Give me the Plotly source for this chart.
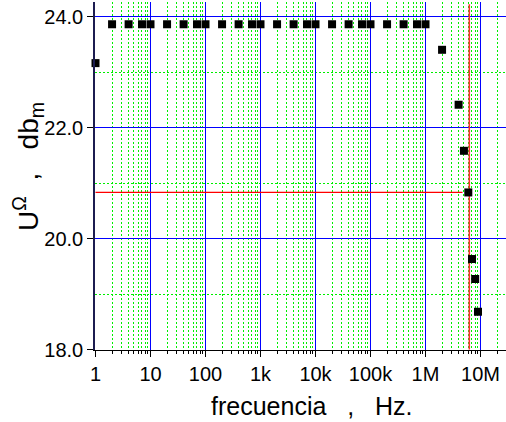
import plotly.graph_objects as go

# ---- data ----
freq_hz = [1, 2, 4, 7, 10, 20, 40, 70, 100, 200, 400, 700,
           1e3, 2e3, 4e3, 7e3, 1e4, 2e4, 4e4, 7e4, 1e5, 2e5, 4e5, 7e5, 1e6,
           2e6, 4e6, 5e6, 6e6, 7e6, 8e6, 9e6]
level_dbm = [23.16, 23.86, 23.86, 23.86, 23.86, 23.86, 23.86, 23.86, 23.86, 23.86, 23.86, 23.86,
             23.86, 23.86, 23.86, 23.86, 23.86, 23.86, 23.86, 23.86, 23.86, 23.86, 23.86, 23.86, 23.86,
             23.40, 22.41, 21.58, 20.83, 19.63, 19.27, 18.68]

ref_level = 20.83          # horizontal red marker level
ref_line_end_hz = 4.7e6    # where the horizontal red marker stops
cutoff_hz = 6.26e6         # vertical red marker frequency

x_tickvals = [1, 10, 100, 1e3, 1e4, 1e5, 1e6, 1e7]
x_ticktext = ["1", "10", "100", "1k", "10k", "100k", "1M", "10M"]
x_minorvals = [m * 10 ** d for d in range(0, 8) for m in range(2, 10)]
y_tickvals = [18, 20, 22, 24]
y_ticktext = ["18.0", "20.0", "22.0", "24.0"]
y_minorvals = [19, 21, 23]

FONT = "Liberation Sans, Arial, sans-serif"

# layout geometry (pixels) chosen so major grid lines fall on pixel centres
W, H = 506, 422
ML, MR, MT, MB = 95, 0, 2, 72
PW, PH = W - ML - MR, H - MT - MB
DEC_PX = 55.0      # pixels per decade on x
UNIT_PX = 55.5     # pixels per dB on y
x0 = -0.5 / DEC_PX
x_range = [x0, x0 + PW / DEC_PX]
y0 = 18 - 0.5 / UNIT_PX
y_range = [y0, y0 + PH / UNIT_PX]

fig = go.Figure()

# red reference lines
fig.add_trace(go.Scatter(x=[freq_hz[0], ref_line_end_hz], y=[ref_level, ref_level],
                         mode="lines", line=dict(color="#ff0000", width=1.2),
                         hoverinfo="skip", showlegend=False))
fig.add_trace(go.Scatter(x=[cutoff_hz, cutoff_hz], y=[18, 24.22],
                         mode="lines", line=dict(color="#ff3030", width=1.5),
                         hoverinfo="skip", showlegend=False))

# data points
fig.add_trace(go.Scatter(x=freq_hz, y=level_dbm, mode="markers",
                         marker=dict(symbol="square", size=8, color="black",
                                     line=dict(width=0)),
                         cliponaxis=False, showlegend=False))

fig.update_layout(
    width=W, height=H,
    margin=dict(l=ML, r=MR, t=MT, b=MB),
    paper_bgcolor="white", plot_bgcolor="white",
    font=dict(family=FONT, size=20, color="black"),
    showlegend=False,
    xaxis=dict(
        type="log", range=x_range,
        tickvals=x_tickvals, ticktext=x_ticktext,
        ticks="outside", ticklen=6, tickwidth=1, tickcolor="black",
        showline=True, linecolor="black", linewidth=1,
        showgrid=True, gridcolor="#0000ff", gridwidth=1,
        zeroline=False,
        tickfont=dict(size=20, family=FONT),
        minor=dict(tickvals=x_minorvals, ticks="outside", ticklen=3, tickcolor="black",
                   showgrid=True, gridcolor="#00ee00", griddash="2px,2px", gridwidth=1),
    ),
    yaxis=dict(
        range=y_range,
        tickvals=y_tickvals, ticktext=y_ticktext,
        ticks="outside", ticklen=6, tickwidth=1, tickcolor="black",
        showline=True, linecolor="#1c1c50", linewidth=1.5,
        showgrid=True, gridcolor="#0000ff", gridwidth=1,
        zeroline=False,
        tickfont=dict(size=20, family=FONT),
        minor=dict(tickvals=y_minorvals, ticks="", showgrid=True,
                   gridcolor="#00ee00", griddash="2px,2px", gridwidth=1),
    ),
    annotations=[
        dict(text="frecuencia\u00a0\u00a0\u00a0,\u00a0\u00a0\u00a0Hz.", xref="paper", yref="paper",
             x=(311 - ML) / PW, y=-56 / PH, xanchor="center", yanchor="middle",
             showarrow=False, font=dict(size=25, family=FONT, color="black")),
        dict(text="U<sup>\u03a9</sup>\u00a0\u00a0,\u00a0\u00a0\u00a0db<sub>m</sub>", xref="paper", yref="paper",
             x=(28 - ML) / PW, y=(350 - 167) / PH, xanchor="center", yanchor="middle",
             textangle=-90, showarrow=False,
             font=dict(size=28, family=FONT, color="black")),
    ],
)

fig.write_html("out.html", config={"displayModeBar": False},
               post_script="document.body.style.margin='0';document.body.style.padding='0';")
